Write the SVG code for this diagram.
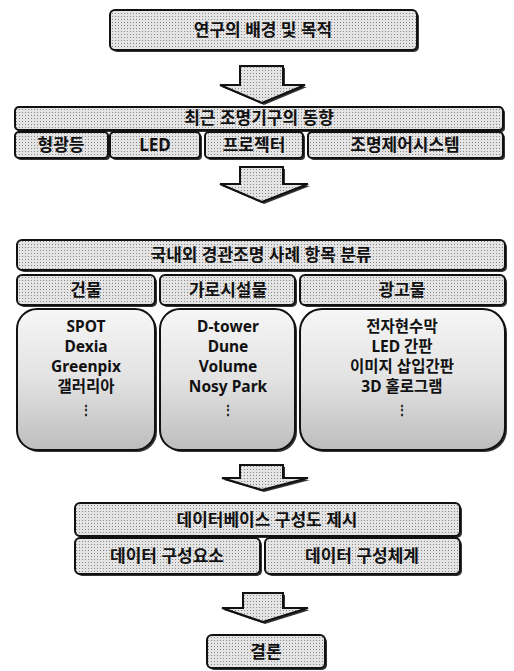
<svg xmlns="http://www.w3.org/2000/svg" width="514" height="671" viewBox="0 0 514 671">
<style>
.bx{fill:url(#ht);stroke:#111;stroke-width:2}
.sh{fill:#333}
.cb{fill:url(#cg);stroke:#111;stroke-width:2}
.ar{fill:url(#ht);stroke:#111;stroke-width:2;stroke-linejoin:miter}
.t{font-family:'Noto Sans','Noto Sans CJK KR',sans-serif;font-weight:700;font-size:17px;fill:#111;text-anchor:middle}
.c{font-size:15.5px}
.d{font-size:12px}
</style>
<defs>
<pattern id="ht" width="3" height="3" patternUnits="userSpaceOnUse">
<rect width="3" height="3" fill="#e4e4e4"/>
<rect x="1" y="1" width="1" height="1" fill="#888"/>
</pattern>
<linearGradient id="cg" x1="0" y1="0" x2="0" y2="1">
<stop offset="0" stop-color="#f6f6f6"/>
<stop offset="0.5" stop-color="#e2e2e2"/>
<stop offset="1" stop-color="#bdbdbd"/>
</linearGradient>
</defs>
<rect width="514" height="671" fill="#fff"/>

<g id="connectors">
<path class="sh" d="M242,68 H285 V87 H307 L264,105 L222,87 H242 Z"/>
<path class="ar" d="M240,66 H283 V85 H305 L262,103 L220,85 H240 Z"/>
<path class="sh" d="M242,169 H285 V186 H310 L264,204 L222,186 H242 Z"/>
<path class="ar" d="M240,167 H283 V184 H308 L262,202 L220,184 H240 Z"/>
<path class="sh" d="M242,467 H285 V480 H310 L264,492 L224,480 H242 Z"/>
<path class="ar" d="M240,465 H283 V478 H308 L262,490 L222,478 H240 Z"/>
<path class="sh" d="M245,595 H285 V610 H310 L265,624 L224,610 H245 Z"/>
<path class="ar" d="M243,593 H283 V608 H308 L263,622 L222,608 H243 Z"/>
</g>

<g id="n1">
<rect class="sh" x="112" y="12" width="307" height="40" rx="5"/>
<rect class="bx" x="110" y="10" width="307" height="40" rx="5"/>
<text class="t" x="263" y="36">연구의 배경 및 목적</text>
</g>

<g id="n2">
<rect class="sh" x="17" y="109" width="488" height="23" rx="4"/>
<rect class="bx" x="15" y="107" width="488" height="23" rx="4"/>
<text class="t" x="259" y="124">최근 조명기구의 동향</text>
</g>
<g id="n2a">
<rect class="sh" x="17" y="134" width="93" height="26" rx="4"/>
<rect class="bx" x="15" y="132" width="93" height="26" rx="4"/>
<text class="t" x="61" y="151">형광등</text>
</g>
<g id="n2b">
<rect class="sh" x="112" y="134" width="90" height="26" rx="4"/>
<rect class="bx" x="110" y="132" width="90" height="26" rx="4"/>
<text class="t" x="155" y="151">LED</text>
</g>
<g id="n2c">
<rect class="sh" x="207" y="134" width="98" height="26" rx="4"/>
<rect class="bx" x="205" y="132" width="98" height="26" rx="4"/>
<text class="t" x="254" y="151">프로젝터</text>
</g>
<g id="n2d">
<rect class="sh" x="310" y="134" width="195" height="26" rx="4"/>
<rect class="bx" x="308" y="132" width="195" height="26" rx="4"/>
<text class="t" x="405" y="151">조명제어시스템</text>
</g>

<g id="n3">
<rect class="sh" x="19" y="242" width="488" height="30" rx="5"/>
<rect class="bx" x="17" y="240" width="488" height="30" rx="5"/>
<text class="t" x="261" y="261">국내외 경관조명 사례 항목 분류</text>
</g>
<g id="n3a">
<rect class="sh" x="19" y="277" width="138" height="30" rx="5"/>
<rect class="bx" x="17" y="275" width="138" height="30" rx="5"/>
<text class="t" x="86" y="296">건물</text>
<rect class="sh" x="19" y="311" width="138" height="141" rx="20"/>
<rect class="cb" x="17" y="309" width="138" height="141" rx="20"/>
<text class="t c" x="86" y="332">SPOT</text>
<text class="t c" x="86" y="352">Dexia</text>
<text class="t c" x="86" y="372">Greenpix</text>
<text class="t c" x="86" y="392">갤러리아</text>
<text class="t d" x="86" y="414">⋮</text>
</g>
<g id="n3b">
<rect class="sh" x="162" y="277" width="135" height="30" rx="5"/>
<rect class="bx" x="160" y="275" width="135" height="30" rx="5"/>
<text class="t" x="228" y="296">가로시설물</text>
<rect class="sh" x="162" y="311" width="135" height="141" rx="20"/>
<rect class="cb" x="160" y="309" width="135" height="141" rx="20"/>
<text class="t c" x="228" y="332">D-tower</text>
<text class="t c" x="228" y="352">Dune</text>
<text class="t c" x="228" y="372">Volume</text>
<text class="t c" x="228" y="392">Nosy Park</text>
<text class="t d" x="228" y="414">⋮</text>
</g>
<g id="n3c">
<rect class="sh" x="302" y="277" width="205" height="30" rx="5"/>
<rect class="bx" x="300" y="275" width="205" height="30" rx="5"/>
<text class="t" x="402" y="296">광고물</text>
<rect class="sh" x="302" y="311" width="205" height="141" rx="22"/>
<rect class="cb" x="300" y="309" width="205" height="141" rx="22"/>
<text class="t c" x="402" y="332">전자현수막</text>
<text class="t c" x="402" y="352">LED 간판</text>
<text class="t c" x="402" y="372">이미지 삽입간판</text>
<text class="t c" x="402" y="392">3D 홀로그램</text>
<text class="t d" x="402" y="414">⋮</text>
</g>

<g id="n4">
<rect class="sh" x="77" y="505" width="385" height="33" rx="5"/>
<rect class="bx" x="75" y="503" width="385" height="33" rx="5"/>
<text class="t" x="267" y="526">데이터베이스 구성도 제시</text>
</g>
<g id="n4a">
<rect class="sh" x="77" y="540" width="185" height="36" rx="5"/>
<rect class="bx" x="75" y="538" width="185" height="36" rx="5"/>
<text class="t" x="167" y="562">데이터 구성요소</text>
</g>
<g id="n4b">
<rect class="sh" x="267" y="540" width="195" height="36" rx="5"/>
<rect class="bx" x="265" y="538" width="195" height="36" rx="5"/>
<text class="t" x="362" y="562">데이터 구성체계</text>
</g>

<g id="n5">
<rect class="sh" x="209" y="637" width="118" height="33" rx="5"/>
<rect class="bx" x="207" y="635" width="118" height="33" rx="5"/>
<text class="t" x="266" y="658">결론</text>
</g>
</svg>
